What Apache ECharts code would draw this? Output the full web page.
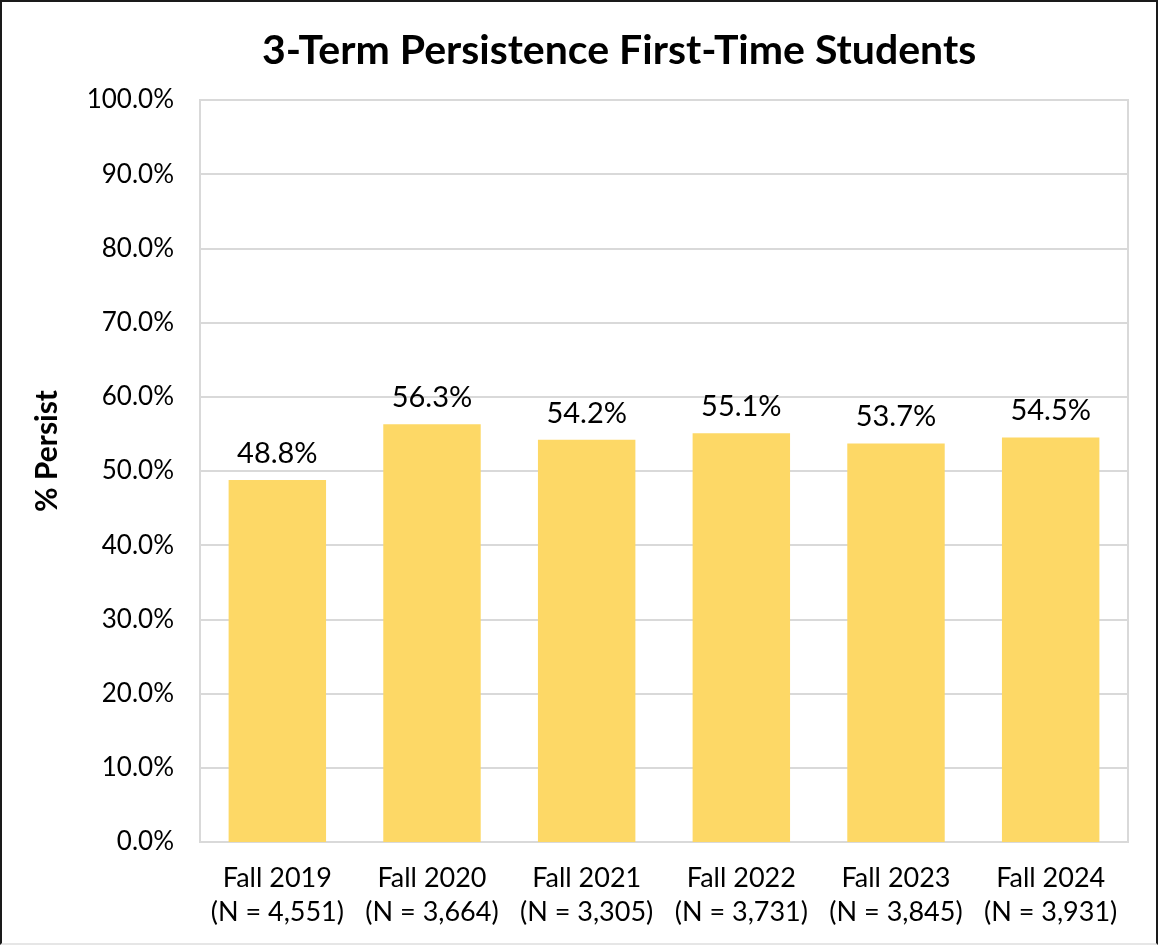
<!DOCTYPE html>
<html>
<head>
<meta charset="utf-8">
<script src="https://cdn.jsdelivr.net/npm/echarts@6/dist/echarts.min.js"></script>
<style>
  html, body { margin: 0; padding: 0; background: #fff; }
  #char {
    width: 1158px;
    height: 945px;
    box-sizing: border-box;
    border-top: 2px solid #1a1a1a;
    border-left: 2px solid #1a1a1a;
    border-right: 2px solid #1a1a1a;
    border-bottom: 2px solid #e6e6e6;
  }
</style>
</head>
<body>
<div id="char"></div>
<script>
// chart data
const terms = ['Fall 2019', 'Fall 2020', 'Fall 2021', 'Fall 2022', 'Fall 2023', 'Fall 2024']
const cohortN = ['4,551', '3,664', '3,305', '3,731', '3,845', '3,931']
const persistPct = [48.8, 56.3, 54.2, 55.1, 53.7, 54.5]

const fontName = 'Lato, "Open Sans", sans-serif'
const chart = echarts.init(document.getElementById('char'))

let option = {
  backgroundColor: '#fff',
  title: {
    text: '3-Term Persistence First-Time Students',
    left: 255,
    top: 23,
    textStyle: { fontFamily: fontName, fontSize: 41, fontWeight: 'bold', color: '#000' }
  },
  // y axis title sits a bit above the middle of the plot, so it is placed by hand
  graphic: [{
    type: 'text',
    x: 45,
    y: 449,
    rotation: Math.PI / 2,
    style: {
      text: '% Persist',
      fontFamily: fontName,
      fontSize: 30,
      fontWeight: 'bold',
      fill: '#000',
      align: 'center',
      verticalAlign: 'middle'
    }
  }],
  grid: {
    left: 198,
    right: 28,
    top: 98,
    bottom: 101,
    show: true,
    borderColor: '#d9d9d9',
    borderWidth: 2
  },
  xAxis: {
    type: 'category',
    data: terms.map((t, i) => t + '\n(N = ' + cohortN[i] + ')'),
    axisLine: { show: false },
    axisTick: { show: false },
    axisLabel: {
      interval: 0,
      hideOverlap: false,
      fontFamily: fontName,
      fontSize: 27,
      color: '#000',
      lineHeight: 34,
      margin: 19
    }
  },
  yAxis: {
    type: 'value',
    min: 0,
    max: 100,
    interval: 10,
    axisLine: { show: false },
    axisTick: { show: false },
    splitLine: { lineStyle: { color: '#d9d9d9', width: 2 } },
    axisLabel: {
      fontFamily: fontName,
      fontSize: 26,
      color: '#000',
      margin: 26,
      formatter: v => v.toFixed(1) + '%'
    }
  },
  series: [{
    type: 'bar',
    data: persistPct,
    barCategoryGap: '37%',
    itemStyle: { color: '#fdd866' },
    label: {
      show: true,
      position: 'top',
      distance: 12,
      fontFamily: fontName,
      fontSize: 29,
      color: '#000',
      formatter: p => p.value.toFixed(1) + '%'
    }
  }]
}
chart.setOption(option)
</script>
</body>
</html>
